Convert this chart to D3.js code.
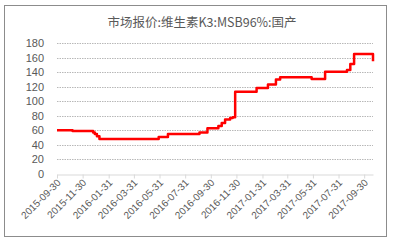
<!DOCTYPE html>
<html>
<head>
<meta charset="utf-8">
<script src="https://cdn.jsdelivr.net/npm/d3@7/dist/d3.min.js"></script>
<style>
  body { margin: 0; background: #fff; }
  text { font-family: "Liberation Sans", "Noto Sans", sans-serif; fill: #595959; }
</style>
</head>
<body>
<svg id="chart" width="393" height="242"></svg>
<script>
// price series (step changes)
var dates = ['2015-09-30','2015-11-06','2015-12-25','2015-12-29','2016-01-03','2016-01-09',
   '2016-05-29','2016-06-20','2016-09-03','2016-09-22','2016-10-18','2016-10-26','2016-11-03',
   '2016-11-15','2016-11-21','2016-11-27','2017-01-17','2017-02-13','2017-03-04','2017-03-14',
   '2017-05-28','2017-06-29','2017-08-20','2017-08-28','2017-09-06','2017-10-21'];
var prices = [60,59,57,55,52,48, 51,55,57,63,66,70,75, 77,78,113,118,123,130,133, 130.5,140.5,143,151,165,155];
var tickLabels = ['2015-09-30','2015-11-30','2016-01-31','2016-03-31','2016-05-31','2016-07-31',
   '2016-09-30','2016-11-30','2017-01-31','2017-03-31','2017-05-31','2017-07-31','2017-09-30'];
var yTicks = [0,20,40,60,80,100,120,140,160,180];
var title = '市场报价:维生素K3:MSB96%:国产';

var parse = d3.timeParse('%Y-%m-%d');
var svg = d3.select('#chart');

svg.append('rect').attr('x', 4.5).attr('y', 5.5).attr('width', 382).attr('height', 231)
   .attr('fill', 'none').attr('stroke', '#8c8c8c');

svg.append('text').attr('x', 202).attr('y', 27).attr('text-anchor', 'middle')
   .style('font-family', '"Noto Sans CJK SC", sans-serif').style('font-size', '12.5px')
   .text(title);

var x = d3.scaleTime().domain([parse('2015-09-30'), parse('2017-10-21')]).range([57, 373]);
var y = d3.scaleLinear().domain([0, 180]).range([174, 43]);

// gridlines
svg.append('g').selectAll('line').data(yTicks.filter(function(d){ return d > 0; })).enter()
   .append('line')
   .attr('x1', 57).attr('x2', 373)
   .attr('y1', function(d){ return Math.round(y(d)) + 0.5; })
   .attr('y2', function(d){ return Math.round(y(d)) + 0.5; })
   .attr('stroke', '#b8b8b8').attr('stroke-dasharray', '1.5,1');

// y labels
svg.append('g').selectAll('text').data(yTicks).enter()
   .append('text')
   .attr('x', 44).attr('y', function(d){ return y(d) + 4; })
   .attr('text-anchor', 'end').style('font-size', '11px')
   .text(function(d){ return d; });

// x axis
var xAxis = d3.axisBottom(x)
   .tickValues(tickLabels.map(parse))
   .tickFormat(d3.timeFormat('%Y-%m-%d'))
   .tickSize(4).tickSizeOuter(0);
var gx = svg.append('g').attr('transform', 'translate(0,' + (Math.round(y(0)) + 0.5) + ')').call(xAxis);
gx.select('.domain').attr('stroke', '#d9d9d9');
gx.selectAll('.tick line').attr('stroke', '#d9d9d9');
gx.selectAll('.tick text')
   .attr('text-anchor', 'end')
   .attr('x', -3.5).attr('y', 5.5).attr('dy', '0.35em')
   .attr('transform', 'rotate(-45)')
   .style('font-size', '10px').style('font-family', '"Liberation Sans", sans-serif')
   .attr('fill', '#595959');

// price line
var pts = dates.map(function(d, i){ return [parse(d), prices[i]]; });
var line = d3.line()
   .x(function(d){ return x(d[0]); })
   .y(function(d){ return y(d[1]); })
   .curve(d3.curveStepAfter);
svg.append('path').datum(pts)
   .attr('d', line)
   .attr('fill', 'none').attr('stroke', '#ff0000').attr('stroke-width', 2.5)
   .attr('stroke-linejoin', 'round');
</script>
</body>
</html>
